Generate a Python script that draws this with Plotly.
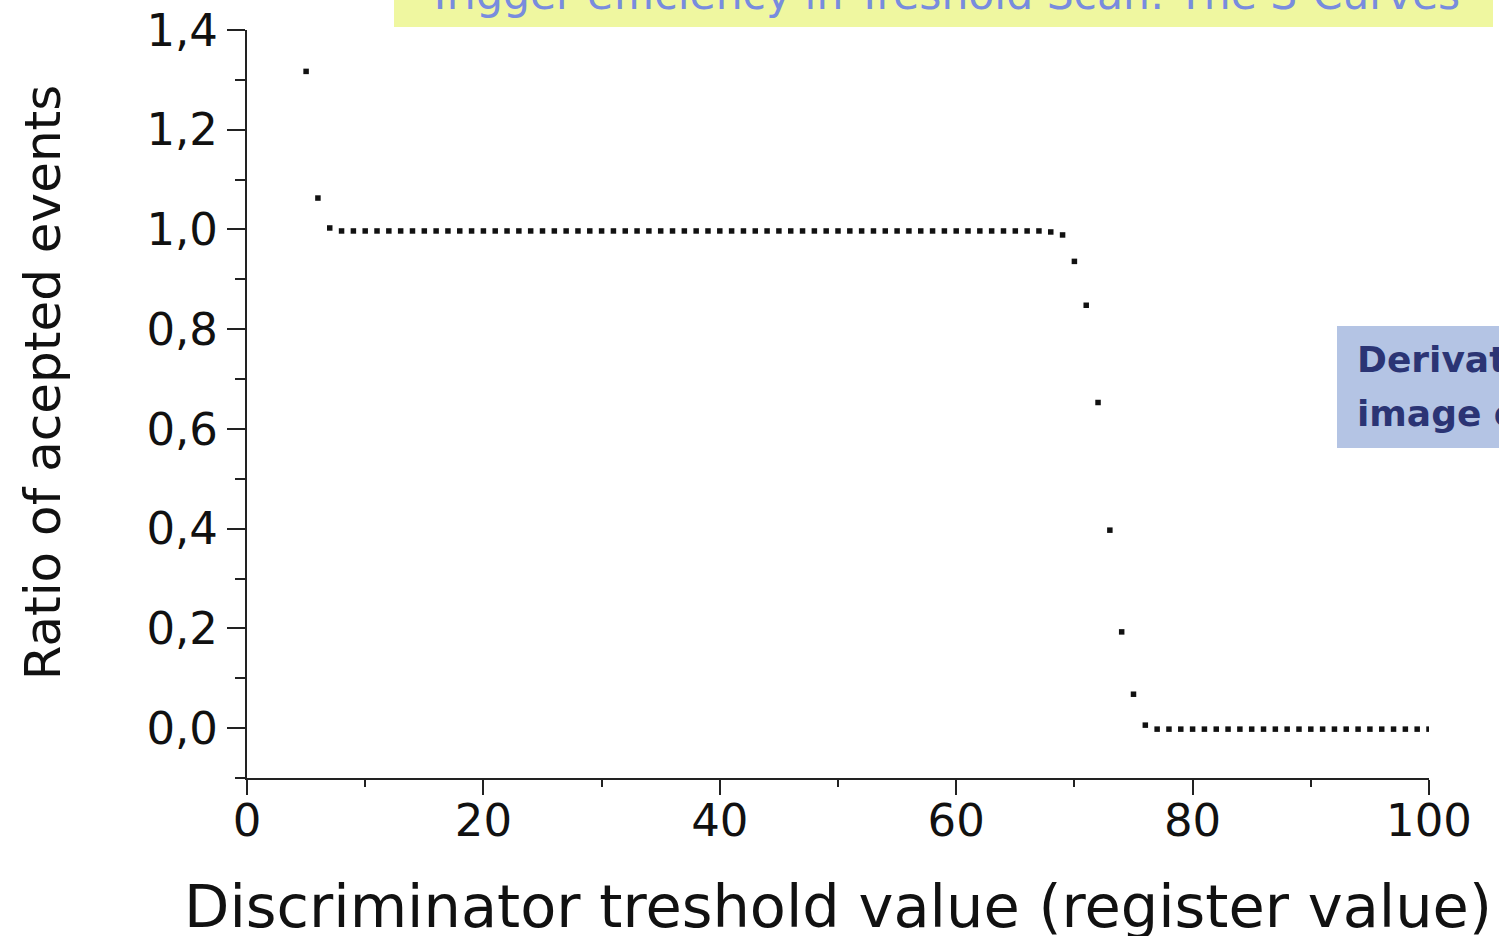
import plotly.graph_objects as go

# Threshold scan: discriminator register value vs ratio of accepted events
threshold = list(range(5, 101))
ratio = [
    1.317, 1.063, 1.003,                                   # 5-7
    0.997, 0.997, 0.997, 0.997, 0.997, 0.997, 0.997, 0.997, 0.997, 0.997,  # 8-17
    0.997, 0.997, 0.997, 0.997, 0.997, 0.997, 0.997, 0.997, 0.997, 0.997,  # 18-27
    0.997, 0.997, 0.997, 0.997, 0.997, 0.997, 0.997, 0.997, 0.997, 0.997,  # 28-37
    0.997, 0.997, 0.997, 0.997, 0.997, 0.997, 0.997, 0.997, 0.997, 0.997,  # 38-47
    0.997, 0.997, 0.997, 0.997, 0.997, 0.997, 0.997, 0.997, 0.997, 0.997,  # 48-57
    0.997, 0.997, 0.997, 0.997, 0.997, 0.997, 0.997, 0.997, 0.997, 0.997,  # 58-67
    0.995, 0.989, 0.936, 0.848, 0.653, 0.397, 0.193, 0.068, 0.006,        # 68-76
    -0.002, -0.002, -0.002, -0.002, -0.002, -0.002, -0.002, -0.002,        # 77-84
    -0.002, -0.002, -0.002, -0.002, -0.002, -0.002, -0.002, -0.002,        # 85-92
    -0.002, -0.002, -0.002, -0.002, -0.002, -0.002, -0.002, -0.002,        # 93-100
]

y_tickvals = [0.0, 0.2, 0.4, 0.6, 0.8, 1.0, 1.2, 1.4]
y_ticktext = ["0,0", "0,2", "0,4", "0,6", "0,8", "1,0", "1,2", "1,4"]
y_minorvals = [-0.1, 0.1, 0.3, 0.5, 0.7, 0.9, 1.1, 1.3]
x_tickvals = [0, 20, 40, 60, 80, 100]
x_ticktext = ["0", "20", "40", "60", "80", "100"]
x_minorvals = [10, 30, 50, 70, 90]

W, H = 1499, 936
ML, MR, MT, MB = 247, 70, 30, 158
PW, PH = W - ML - MR, H - MT - MB


def px(x):
    return (x - ML) / PW


def py(y):
    return (H - MB - y) / PH


AXIS = "#222222"
FONT = "DejaVu Sans"

fig = go.Figure()
fig.add_trace(go.Scatter(
    x=threshold, y=ratio, mode="markers",
    marker=dict(symbol="square", size=5.5, color="#111111", line=dict(width=0)),
    showlegend=False, hoverinfo="skip",
))

fig.update_layout(
    width=W, height=H,
    margin=dict(l=ML, r=MR, t=MT, b=MB, pad=0, autoexpand=False),
    paper_bgcolor="white", plot_bgcolor="white",
    font=dict(family=FONT, size=45, color="#111111"),
    xaxis=dict(
        range=[0, 100], showgrid=False, zeroline=False, automargin=False,
        showline=True, linecolor=AXIS, linewidth=2,
        ticks="outside", ticklen=15, tickwidth=2, tickcolor=AXIS,
        tickvals=x_tickvals, ticktext=x_ticktext, ticklabelstandoff=-13,
        tickfont=dict(family=FONT, size=45, color="#111111"),
        minor=dict(ticks="outside", ticklen=7, tickwidth=2, tickcolor=AXIS,
                   tickvals=x_minorvals, showgrid=False),
    ),
    yaxis=dict(
        range=[-0.1, 1.4], showgrid=False, zeroline=False, automargin=False,
        showline=True, linecolor=AXIS, linewidth=2,
        ticks="outside", ticklen=18, tickwidth=2, tickcolor=AXIS,
        tickvals=y_tickvals, ticktext=y_ticktext,
        tickfont=dict(family=FONT, size=45, color="#111111"),
        minor=dict(ticks="outside", ticklen=10, tickwidth=2, tickcolor=AXIS,
                   tickvals=y_minorvals, showgrid=False),
    ),
)

# Banner with the slide title along the top edge
fig.add_shape(type="rect", xref="paper", yref="paper",
              x0=px(394), x1=px(1493), y0=py(27), y1=py(-20),
              fillcolor="#eff7a0", line=dict(width=0), layer="below")
fig.add_annotation(xref="paper", yref="paper", x=px(943), y=py(-5.5),
                   xanchor="center", yanchor="middle", showarrow=False,
                   text="Trigger efficiency in Treshold Scan: The S-Curves",
                   font=dict(family=FONT, size=42.5, color="#788cde"))

# Side note box on the right
fig.add_shape(type="rect", xref="paper", yref="paper",
              x0=px(1337), x1=px(1560), y0=py(448), y1=py(326),
              fillcolor="#b4c4e4", line=dict(width=0), layer="below")
fig.add_annotation(xref="paper", yref="paper", x=px(1355), y=py(359.5),
                   xanchor="left", yanchor="middle", showarrow=False,
                   text="<b>Derivative</b>",
                   font=dict(family=FONT, size=36, color="#2b3474"))
fig.add_annotation(xref="paper", yref="paper", x=px(1355), y=py(413.5),
                   xanchor="left", yanchor="middle", showarrow=False,
                   text="<b>image of</b>",
                   font=dict(family=FONT, size=36, color="#2b3474"))

# Axis titles
fig.add_annotation(xref="paper", yref="paper", x=px(838), y=py(906.6),
                   xanchor="center", yanchor="middle", showarrow=False,
                   text="Discriminator treshold value (register value)",
                   font=dict(family=FONT, size=59, color="#111111"))
fig.add_annotation(xref="paper", yref="paper", x=px(42.7), y=py(382.5),
                   xanchor="center", yanchor="middle", showarrow=False,
                   textangle=-90, text="Ratio of acepted events",
                   font=dict(family=FONT, size=50, color="#111111"))

fig.write_html("out.html")
